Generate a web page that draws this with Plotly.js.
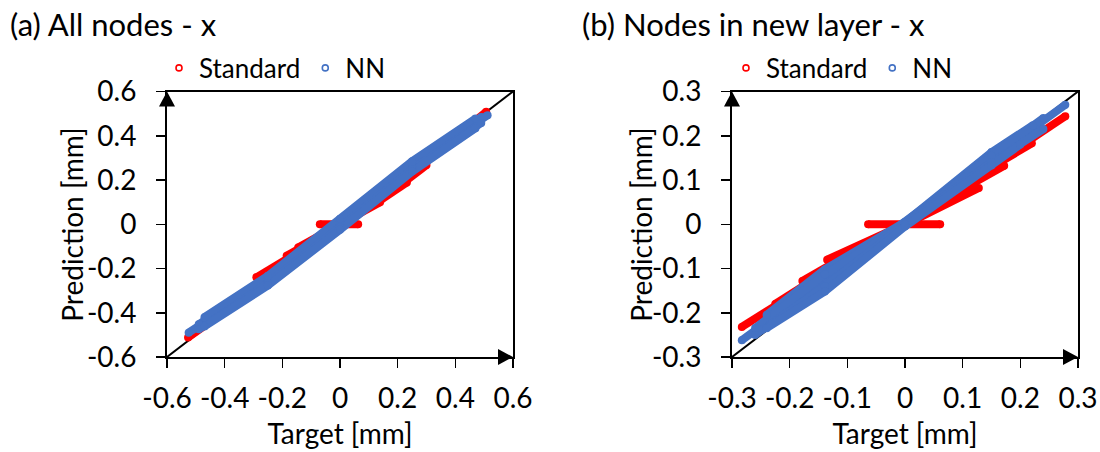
<!DOCTYPE html>
<html><head><meta charset="utf-8">
<script src="https://cdn.plot.ly/plotly-3.0.1.min.js"></script>
<style>html,body{margin:0;padding:0;background:#fff;} #chart{width:1100px;height:452px;}</style>
</head><body><div id="chart"></div>
<script>
// ---------- text ----------
const titleA = "(a) All nodes - x";
const titleB = "(b) Nodes in new layer - x";
const xTitle = "Target [mm]";
const yTitle = "Prediction [mm]";
const nameStd = "Standard";
const nameNN = "NN";

// ---------- ticks ----------
const aTickVals = [-0.6, -0.4, -0.2, 0, 0.2, 0.4, 0.6];
const aTickText = ["-0.6", "-0.4", "-0.2", "0", "0.2", "0.4", "0.6"];
const bTickVals = [-0.3, -0.2, -0.1, 0, 0.1, 0.2, 0.3];
const bTickText = ["-0.3", "-0.2", "-0.1", "0", "0.1", "0.2", "0.3"];

// ---------- reference (y = x) ----------
const aRefX = [-0.6, 0.6];
const aRefY = [-0.6, 0.6];
const bRefX = [-0.3, 0.3];
const bRefY = [-0.3, 0.3];

// ---------- (a) All nodes: Standard (dense point runs, null = gap) ----------
const aStdX = [-0.527, -0.417, null, -0.417, -0.29, null, -0.29, -0.185, null, -0.185, -0.145, null, -0.145, 0, null, -0.07, 0.063, null, 0, 0.139, null, 0.139, 0.232, null, 0.232, 0.30, null, 0.30, 0.507];
const aStdY = [-0.512, -0.41, null, -0.397, -0.288, null, -0.24, -0.158, null, -0.142, -0.113, null, -0.105, 0, null, 0, 0, null, 0, 0.099, null, 0.108, 0.189, null, 0.20, 0.268, null, 0.285, 0.508];
// ---------- (a) All nodes: NN ----------
const aNnX = [-0.525, -0.25, 0, 0.25, 0.512, null,
              -0.49, -0.25, 0, 0.25, 0.49, null,
              -0.47, -0.25, 0, 0.25, 0.47, null,
              -0.49, -0.25, 0, 0.25, 0.49, null,
              -0.47, -0.25, 0, 0.25, 0.47];
const aNnY = [-0.49, -0.255, 0, 0.26, 0.493, null,
              -0.452, -0.244, 0.013, 0.273, 0.485, null,
              -0.42, -0.233, 0.025, 0.285, 0.478, null,
              -0.475, -0.266, -0.013, 0.249, 0.458, null,
              -0.462, -0.277, -0.025, 0.238, 0.434];

// ---------- (b) Nodes in new layer: Standard ----------
const bStdX = [-0.283, -0.17, null, -0.225, -0.11, null, -0.178, -0.06, null, -0.135, 0, null, -0.064, 0.061, null, 0.01, 0.128, null, 0.06, 0.172, null, 0.10, 0.22, null, 0.13, 0.278];
const bStdY = [-0.232, -0.14, null, -0.18, -0.085, null, -0.128, -0.04, null, -0.08, 0, null, 0, 0, null, 0.005, 0.082, null, 0.05, 0.132, null, 0.09, 0.183, null, 0.115, 0.244];
// ---------- (b) Nodes in new layer: NN ----------
const bNnX = [-0.283, 0.278, null,
              -0.24, -0.139, 0, 0.15, 0.222, null,
              -0.26, -0.139, 0, 0.15, 0.24, null,
              -0.26, -0.139, 0, 0.15, 0.24, null,
              -0.24, -0.139, 0, 0.15, 0.2];
const bNnY = [-0.262, 0.27, null,
              -0.205, -0.102, 0.005, 0.163, 0.224, null,
              -0.235, -0.113, 0, 0.155, 0.24, null,
              -0.25, -0.14, 0, 0.14, 0.215, null,
              -0.235, -0.152, -0.005, 0.133, 0.18];

const RED = "#FF0000";
const BLUE = "#4472C4";
const FONT = "Lato, 'Open Sans', sans-serif";
const TXT = "#000000";

function band(x, y, color, xa, ya) {
  return {x: x, y: y, xaxis: xa, yaxis: ya, type: "scatter", mode: "lines+markers",
    line: {color: color, width: 8}, marker: {color: color, size: 8},
    connectgaps: false, showlegend: false, hoverinfo: "skip"};
}
function legendItem(name, color, lg, xa, ya) {
  return {x: [null], y: [null], xaxis: xa, yaxis: ya, type: "scatter", mode: "markers", name: name,
    legend: lg, marker: {color: color, symbol: "circle-open", size: 6, line: {color: color, width: 1.6}}};
}
function refLine(x, y, xa, ya) {
  return {x: x, y: y, xaxis: xa, yaxis: ya, type: "scatter", mode: "lines",
    line: {color: "#000", width: 2}, showlegend: false, hoverinfo: "skip"};
}

const data = [
  refLine(aRefX, aRefY, "x", "y"),
  band(aStdX, aStdY, RED, "x", "y"),
  band(aNnX, aNnY, BLUE, "x", "y"),
  legendItem(nameStd, RED, "legend", "x", "y"),
  legendItem(nameNN, BLUE, "legend", "x", "y"),
  refLine(bRefX, bRefY, "x2", "y2"),
  band(bStdX, bStdY, RED, "x2", "y2"),
  band(bNnX, bNnY, BLUE, "x2", "y2"),
  legendItem(nameStd, RED, "legend2", "x2", "y2"),
  legendItem(nameNN, BLUE, "legend2", "x2", "y2")
];

const W = 1100, H = 452;
const mL = 167, mR = 22, mT = 90, mB = 95;
const plotW = W - mL - mR, plotH = H - mT - mB;
const aEnd = (513 - mL) / plotW;
const bStart = (732 - mL) / plotW;

function axis(extra) {
  return Object.assign({
    showline: true, mirror: true, linecolor: "#000", linewidth: 2,
    ticks: "outside", ticklen: 9, tickwidth: 1.5, tickcolor: "#000",
    showgrid: false, zeroline: false, fixedrange: true,
    tickfont: {family: FONT, size: 28, color: TXT}
  }, extra);
}

function arrowUp(xa) {
  return {type: "path", xref: "paper", yref: "paper", xsizemode: "pixel", ysizemode: "pixel",
    xanchor: xa, yanchor: 1, path: "M -8 -15 L 8 -15 L 0 0 Z", fillcolor: "#000", line: {width: 0}};
}
function arrowRight(xa) {
  return {type: "path", xref: "paper", yref: "paper", xsizemode: "pixel", ysizemode: "pixel",
    xanchor: xa, yanchor: 0, path: "M 0 0 L -15 8 L -15 -8 Z", fillcolor: "#000", line: {width: 0}};
}

const legendBase = {orientation: "h", xref: "container", yref: "container", xanchor: "left", yanchor: "middle",
  font: {family: FONT, size: 26, color: TXT}, bgcolor: "rgba(0,0,0,0)", itemwidth: 30};

const titleFont = {family: FONT, size: 28, color: TXT};
const px2x = function (px) { return (px - mL) / plotW; };
const px2y = function (py) { return (mT + plotH - py) / plotH; };

const layout = {
  width: W, height: H,
  margin: {l: mL, r: mR, t: mT, b: mB},
  paper_bgcolor: "#fff", plot_bgcolor: "#fff",
  font: {family: FONT, color: TXT},
  xaxis: axis({domain: [0, aEnd], range: [-0.6, 0.6], tickvals: aTickVals, ticktext: aTickText, anchor: "y",
    ticklabelstandoff: 6, title: {text: xTitle, font: titleFont, standoff: 12}}),
  yaxis: axis({domain: [0, 1], range: [-0.6, 0.6], tickvals: aTickVals, ticktext: aTickText, anchor: "x",
    ticklabelstandoff: 14}),
  xaxis2: axis({domain: [bStart, 1], range: [-0.3, 0.3], tickvals: bTickVals, ticktext: bTickText, anchor: "y2",
    ticklabelstandoff: 6, title: {text: xTitle, font: titleFont, standoff: 12}}),
  yaxis2: axis({domain: [0, 1], range: [-0.3, 0.3], tickvals: bTickVals, ticktext: bTickText, anchor: "x2",
    ticklabelstandoff: 14}),
  legend: Object.assign({x: 159 / W, y: 1 - 68 / H}, legendBase),
  legend2: Object.assign({x: 726 / W, y: 1 - 68 / H}, legendBase),
  shapes: [arrowUp(0), arrowRight(aEnd), arrowUp(bStart), arrowRight(1)],
  annotations: [
    {text: titleA, xref: "paper", yref: "paper", x: px2x(8), y: px2y(22), xanchor: "left", yanchor: "middle",
      showarrow: false, font: {family: FONT, size: 31, color: TXT}},
    {text: titleB, xref: "paper", yref: "paper", x: px2x(580), y: px2y(22), xanchor: "left", yanchor: "middle",
      showarrow: false, font: {family: FONT, size: 31, color: TXT}},
    {text: yTitle, xref: "paper", yref: "paper", x: px2x(72), y: px2y(224), xanchor: "center", yanchor: "middle",
      textangle: -90, showarrow: false, font: titleFont},
    {text: yTitle, xref: "paper", yref: "paper", x: px2x(641), y: px2y(224), xanchor: "center", yanchor: "middle",
      textangle: -90, showarrow: false, font: titleFont}
  ]
};

Plotly.newPlot("chart", data, layout, {displayModeBar: false, staticPlot: true});
</script>
</body></html>
